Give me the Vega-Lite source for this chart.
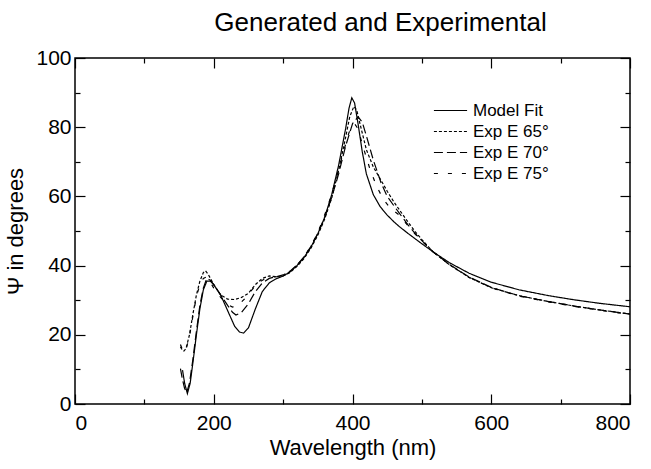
{
"$schema":"https://vega.github.io/schema/vega-lite/v6.json",
"width":555,"height":346,
"autosize":{"type":"none"},
"padding":{"left":75,"top":58,"right":21,"bottom":65},
"background":"white",
"title":{"text":"Generated and Experimental","fontSize":26,"fontWeight":"normal","font":"Liberation Sans","anchor":"middle","dx":28,"offset":11,"color":"black"},
"config":{"view":{"stroke":"black","strokeWidth":1.5},"font":"Liberation Sans",
 "axis":{"domain":false,"tickColor":"black","tickWidth":1.2,"labelColor":"black","titleColor":"black","labelFont":"Liberation Sans","titleFont":"Liberation Sans","labelFontSize":21,"titleFontSize":22,"titleFontWeight":"normal","grid":false}},
"datasets":{"psi":[
{"s":"Model Fit","wl":155,"psi":9.8},{"s":"Model Fit","wl":158,"psi":6},{"s":"Model Fit","wl":162,"psi":3},{"s":"Model Fit","wl":166,"psi":6},{"s":"Model Fit","wl":170,"psi":12},{"s":"Model Fit","wl":175,"psi":20},{"s":"Model Fit","wl":180,"psi":27.5},{"s":"Model Fit","wl":185,"psi":33},{"s":"Model Fit","wl":190,"psi":35.5},{"s":"Model Fit","wl":195,"psi":35.5},{"s":"Model Fit","wl":200,"psi":34.5},{"s":"Model Fit","wl":210,"psi":31.5},{"s":"Model Fit","wl":220,"psi":27},{"s":"Model Fit","wl":230,"psi":22.5},{"s":"Model Fit","wl":237,"psi":20.8},{"s":"Model Fit","wl":243,"psi":20.5},{"s":"Model Fit","wl":250,"psi":22},{"s":"Model Fit","wl":260,"psi":27.5},{"s":"Model Fit","wl":270,"psi":32.5},{"s":"Model Fit","wl":280,"psi":35},{"s":"Model Fit","wl":290,"psi":36.2},{"s":"Model Fit","wl":300,"psi":37},{"s":"Model Fit","wl":310,"psi":38.2},{"s":"Model Fit","wl":320,"psi":40},{"s":"Model Fit","wl":330,"psi":42.3},{"s":"Model Fit","wl":340,"psi":45.3},{"s":"Model Fit","wl":350,"psi":49.2},{"s":"Model Fit","wl":360,"psi":54},{"s":"Model Fit","wl":370,"psi":60.5},{"s":"Model Fit","wl":380,"psi":69},{"s":"Model Fit","wl":390,"psi":79.5},{"s":"Model Fit","wl":395,"psi":85.5},{"s":"Model Fit","wl":399,"psi":88.5},{"s":"Model Fit","wl":403,"psi":87},{"s":"Model Fit","wl":408,"psi":81},{"s":"Model Fit","wl":414,"psi":73},{"s":"Model Fit","wl":420,"psi":66.5},{"s":"Model Fit","wl":430,"psi":60.5},{"s":"Model Fit","wl":440,"psi":57},{"s":"Model Fit","wl":450,"psi":54.6},{"s":"Model Fit","wl":460,"psi":52.6},{"s":"Model Fit","wl":468,"psi":51.2},{"s":"Model Fit","wl":480,"psi":49.3},{"s":"Model Fit","wl":490,"psi":47.8},{"s":"Model Fit","wl":500,"psi":46.3},{"s":"Model Fit","wl":516,"psi":44},{"s":"Model Fit","wl":540,"psi":40.8},{"s":"Model Fit","wl":568,"psi":37.8},{"s":"Model Fit","wl":600,"psi":35.2},{"s":"Model Fit","wl":640,"psi":33},{"s":"Model Fit","wl":683,"psi":31.3},{"s":"Model Fit","wl":720,"psi":30.1},{"s":"Model Fit","wl":756,"psi":29.1},{"s":"Model Fit","wl":800,"psi":28.1},
{"s":"Exp E 65°","wl":152,"psi":16.5},{"s":"Exp E 65°","wl":155,"psi":15.5},{"s":"Exp E 65°","wl":157,"psi":15.3},{"s":"Exp E 65°","wl":160,"psi":16},{"s":"Exp E 65°","wl":165,"psi":20},{"s":"Exp E 65°","wl":170,"psi":26},{"s":"Exp E 65°","wl":175,"psi":31.5},{"s":"Exp E 65°","wl":180,"psi":35.5},{"s":"Exp E 65°","wl":185,"psi":38},{"s":"Exp E 65°","wl":188,"psi":38.5},{"s":"Exp E 65°","wl":192,"psi":37.5},{"s":"Exp E 65°","wl":200,"psi":34.5},{"s":"Exp E 65°","wl":210,"psi":31.5},{"s":"Exp E 65°","wl":220,"psi":30.3},{"s":"Exp E 65°","wl":230,"psi":30.2},{"s":"Exp E 65°","wl":240,"psi":30.8},{"s":"Exp E 65°","wl":250,"psi":32},{"s":"Exp E 65°","wl":260,"psi":34.5},{"s":"Exp E 65°","wl":270,"psi":36.3},{"s":"Exp E 65°","wl":280,"psi":37},{"s":"Exp E 65°","wl":290,"psi":36.8},{"s":"Exp E 65°","wl":300,"psi":37},{"s":"Exp E 65°","wl":310,"psi":38},{"s":"Exp E 65°","wl":320,"psi":39.8},{"s":"Exp E 65°","wl":330,"psi":42},{"s":"Exp E 65°","wl":340,"psi":45},{"s":"Exp E 65°","wl":350,"psi":48.8},{"s":"Exp E 65°","wl":360,"psi":53.5},{"s":"Exp E 65°","wl":370,"psi":59.5},{"s":"Exp E 65°","wl":380,"psi":67.5},{"s":"Exp E 65°","wl":390,"psi":77},{"s":"Exp E 65°","wl":396,"psi":83},{"s":"Exp E 65°","wl":402,"psi":86},{"s":"Exp E 65°","wl":406,"psi":85},{"s":"Exp E 65°","wl":412,"psi":80},{"s":"Exp E 65°","wl":420,"psi":73.5},{"s":"Exp E 65°","wl":430,"psi":68.5},{"s":"Exp E 65°","wl":441,"psi":64.7},{"s":"Exp E 65°","wl":450,"psi":61.5},{"s":"Exp E 65°","wl":460,"psi":58.3},{"s":"Exp E 65°","wl":468,"psi":56},{"s":"Exp E 65°","wl":480,"psi":52.6},{"s":"Exp E 65°","wl":490,"psi":49.9},{"s":"Exp E 65°","wl":500,"psi":47.5},{"s":"Exp E 65°","wl":516,"psi":44},{"s":"Exp E 65°","wl":540,"psi":40.2},{"s":"Exp E 65°","wl":568,"psi":36.6},{"s":"Exp E 65°","wl":600,"psi":33.6},{"s":"Exp E 65°","wl":640,"psi":31.3},{"s":"Exp E 65°","wl":683,"psi":29.6},{"s":"Exp E 65°","wl":720,"psi":28.3},{"s":"Exp E 65°","wl":756,"psi":27.2},{"s":"Exp E 65°","wl":800,"psi":26},
{"s":"Exp E 70°","wl":152,"psi":10.2},{"s":"Exp E 70°","wl":155,"psi":7},{"s":"Exp E 70°","wl":158,"psi":4.5},{"s":"Exp E 70°","wl":161,"psi":3.3},{"s":"Exp E 70°","wl":165,"psi":6},{"s":"Exp E 70°","wl":170,"psi":13},{"s":"Exp E 70°","wl":175,"psi":21},{"s":"Exp E 70°","wl":180,"psi":28.5},{"s":"Exp E 70°","wl":185,"psi":33.5},{"s":"Exp E 70°","wl":190,"psi":36.3},{"s":"Exp E 70°","wl":195,"psi":35.8},{"s":"Exp E 70°","wl":200,"psi":34.5},{"s":"Exp E 70°","wl":210,"psi":31.5},{"s":"Exp E 70°","wl":220,"psi":28.5},{"s":"Exp E 70°","wl":227,"psi":26.5},{"s":"Exp E 70°","wl":232,"psi":25.7},{"s":"Exp E 70°","wl":240,"psi":26.5},{"s":"Exp E 70°","wl":250,"psi":29},{"s":"Exp E 70°","wl":260,"psi":32.5},{"s":"Exp E 70°","wl":270,"psi":35},{"s":"Exp E 70°","wl":280,"psi":36.3},{"s":"Exp E 70°","wl":290,"psi":36.8},{"s":"Exp E 70°","wl":300,"psi":37.3},{"s":"Exp E 70°","wl":310,"psi":38.4},{"s":"Exp E 70°","wl":320,"psi":40.2},{"s":"Exp E 70°","wl":330,"psi":42.5},{"s":"Exp E 70°","wl":340,"psi":45.5},{"s":"Exp E 70°","wl":350,"psi":49.3},{"s":"Exp E 70°","wl":360,"psi":54},{"s":"Exp E 70°","wl":370,"psi":59.7},{"s":"Exp E 70°","wl":380,"psi":66.5},{"s":"Exp E 70°","wl":390,"psi":74.5},{"s":"Exp E 70°","wl":400,"psi":81},{"s":"Exp E 70°","wl":408,"psi":83},{"s":"Exp E 70°","wl":414,"psi":81.5},{"s":"Exp E 70°","wl":420,"psi":77.5},{"s":"Exp E 70°","wl":430,"psi":70.5},{"s":"Exp E 70°","wl":441,"psi":64},{"s":"Exp E 70°","wl":450,"psi":60},{"s":"Exp E 70°","wl":460,"psi":57.2},{"s":"Exp E 70°","wl":468,"psi":55},{"s":"Exp E 70°","wl":480,"psi":51.8},{"s":"Exp E 70°","wl":490,"psi":49.3},{"s":"Exp E 70°","wl":500,"psi":47.2},{"s":"Exp E 70°","wl":516,"psi":44},{"s":"Exp E 70°","wl":540,"psi":40.3},{"s":"Exp E 70°","wl":568,"psi":36.7},{"s":"Exp E 70°","wl":600,"psi":33.7},{"s":"Exp E 70°","wl":640,"psi":31.3},{"s":"Exp E 70°","wl":683,"psi":29.6},{"s":"Exp E 70°","wl":720,"psi":28.3},{"s":"Exp E 70°","wl":756,"psi":27.2},{"s":"Exp E 70°","wl":800,"psi":26},
{"s":"Exp E 75°","wl":152,"psi":17.2},{"s":"Exp E 75°","wl":155,"psi":15.6},{"s":"Exp E 75°","wl":157,"psi":15},{"s":"Exp E 75°","wl":160,"psi":15.8},{"s":"Exp E 75°","wl":165,"psi":19.5},{"s":"Exp E 75°","wl":170,"psi":25.5},{"s":"Exp E 75°","wl":175,"psi":31},{"s":"Exp E 75°","wl":180,"psi":34.5},{"s":"Exp E 75°","wl":185,"psi":36.3},{"s":"Exp E 75°","wl":189,"psi":36.7},{"s":"Exp E 75°","wl":195,"psi":35.2},{"s":"Exp E 75°","wl":200,"psi":33.5},{"s":"Exp E 75°","wl":210,"psi":30.8},{"s":"Exp E 75°","wl":220,"psi":28.8},{"s":"Exp E 75°","wl":227,"psi":28},{"s":"Exp E 75°","wl":235,"psi":28.5},{"s":"Exp E 75°","wl":245,"psi":30.5},{"s":"Exp E 75°","wl":255,"psi":33},{"s":"Exp E 75°","wl":265,"psi":35.2},{"s":"Exp E 75°","wl":275,"psi":36.3},{"s":"Exp E 75°","wl":285,"psi":36.7},{"s":"Exp E 75°","wl":295,"psi":36.8},{"s":"Exp E 75°","wl":305,"psi":37.5},{"s":"Exp E 75°","wl":315,"psi":39},{"s":"Exp E 75°","wl":325,"psi":41.2},{"s":"Exp E 75°","wl":335,"psi":44},{"s":"Exp E 75°","wl":345,"psi":47.5},{"s":"Exp E 75°","wl":355,"psi":52},{"s":"Exp E 75°","wl":365,"psi":57.5},{"s":"Exp E 75°","wl":375,"psi":64},{"s":"Exp E 75°","wl":385,"psi":71.5},{"s":"Exp E 75°","wl":395,"psi":78.5},{"s":"Exp E 75°","wl":403,"psi":81},{"s":"Exp E 75°","wl":408,"psi":79.5},{"s":"Exp E 75°","wl":415,"psi":74.5},{"s":"Exp E 75°","wl":425,"psi":68},{"s":"Exp E 75°","wl":435,"psi":62.8},{"s":"Exp E 75°","wl":445,"psi":59},{"s":"Exp E 75°","wl":455,"psi":56.5},{"s":"Exp E 75°","wl":468,"psi":54.5},{"s":"Exp E 75°","wl":480,"psi":51.5},{"s":"Exp E 75°","wl":490,"psi":49.2},{"s":"Exp E 75°","wl":500,"psi":47.1},{"s":"Exp E 75°","wl":516,"psi":44},{"s":"Exp E 75°","wl":540,"psi":40.2},{"s":"Exp E 75°","wl":568,"psi":36.6},{"s":"Exp E 75°","wl":600,"psi":33.6},{"s":"Exp E 75°","wl":640,"psi":31.2},{"s":"Exp E 75°","wl":683,"psi":29.5},{"s":"Exp E 75°","wl":720,"psi":28.2},{"s":"Exp E 75°","wl":756,"psi":27.1},{"s":"Exp E 75°","wl":800,"psi":25.9}
]},
"layer":[
 {"data":{"name":"psi"},
  "mark":{"type":"line","color":"black","strokeWidth":1.2},
  "encoding":{
   "x":{"field":"wl","type":"quantitative","scale":{"domain":[0,800],"nice":false},"axis":{"orient":"bottom","values":[0,200,400,600,800],"tickSize":-10,"labelPadding":18,"title":"Wavelength (nm)","titlePadding":4}},
   "y":{"field":"psi","type":"quantitative","scale":{"domain":[0,100],"nice":false},"axis":{"orient":"left","values":[0,20,40,60,80,100],"tickSize":-10,"labelPadding":14,"title":"Ψ in degrees","titlePadding":8}},
   "strokeDash":{"field":"s","type":"nominal","sort":["Model Fit","Exp E 65°","Exp E 70°","Exp E 75°"],
     "scale":{"domain":["Model Fit","Exp E 65°","Exp E 70°","Exp E 75°"],"range":[[1,0],[3,2],[9,4],[4,10]]},
     "legend":{"title":null,"orient":"none","legendX":367,"legendY":44,"padding":0,"symbolType":"M-5,0H5","symbolSize":44,"symbolStrokeColor":"black","symbolFillColor":"transparent","symbolStrokeWidth":1.2,"labelFontSize":17,"labelFont":"Liberation Sans","labelColor":"black","labelOffset":14,"rowPadding":3}}
  }},
 {"data":{"name":"psi"},
  "mark":{"type":"line","opacity":0},
  "encoding":{
   "x":{"field":"wl","type":"quantitative","axis":{"orient":"bottom","values":[100,300,500,700],"tickSize":-5,"labels":false,"title":null}},
   "y":{"field":"psi","type":"quantitative","axis":{"orient":"left","values":[10,30,50,70,90],"tickSize":-5,"labels":false,"title":null}},
   "detail":{"field":"s"}
  }},
 {"data":{"name":"psi"},
  "mark":{"type":"line","opacity":0},
  "encoding":{
   "x":{"field":"wl","type":"quantitative","axis":{"orient":"top","values":[0,200,400,600,800],"tickSize":-10,"labels":false,"title":null}},
   "y":{"field":"psi","type":"quantitative","axis":{"orient":"right","values":[0,20,40,60,80,100],"tickSize":-10,"labels":false,"title":null}},
   "detail":{"field":"s"}
  }},
 {"data":{"name":"psi"},
  "mark":{"type":"line","opacity":0},
  "encoding":{
   "x":{"field":"wl","type":"quantitative","axis":{"orient":"top","values":[100,300,500,700],"tickSize":-5,"labels":false,"title":null}},
   "y":{"field":"psi","type":"quantitative","axis":{"orient":"right","values":[10,30,50,70,90],"tickSize":-5,"labels":false,"title":null}},
   "detail":{"field":"s"}
  }}
],
"resolve":{"axis":{"x":"independent","y":"independent"}}
}
